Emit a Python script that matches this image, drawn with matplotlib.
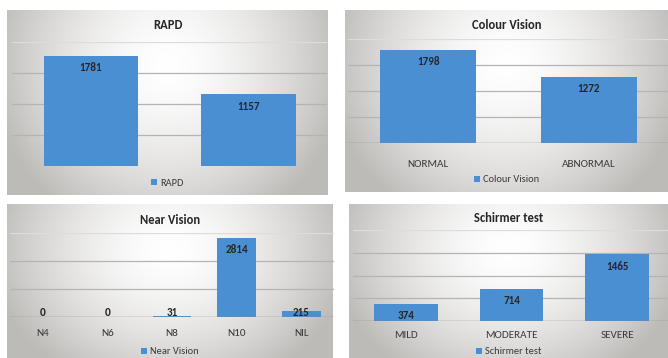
import numpy as np
import matplotlib
matplotlib.use("Agg")
import matplotlib.pyplot as plt

plt.rcParams['font.family'] = ['Carlito', 'Archivo Narrow', 'Liberation Sans', 'DejaVu Sans']

# ---- data ----
rapd_cats = ["", ""]
rapd_vals = [1781, 1157]

colour_cats = ["NORMAL", "ABNORMAL"]
colour_vals = [1798, 1272]

near_cats = ["N4", "N6", "N8", "N10", "NIL"]
near_vals = [0, 0, 31, 2814, 215]

schirmer_cats = ["MILD", "MODERATE", "SEVERE"]
schirmer_vals = [374, 714, 1465]

W, H = 668, 358
BAR = "#4a8fd1"
fig = plt.figure(figsize=(W / 100, H / 100), dpi=100)
fig.patch.set_facecolor("white")


def rect(x0, y0, x1, y1):
    return [x0 / W, 1 - y1 / H, (x1 - x0) / W, (y1 - y0) / H]


def background(x0, y0, x1, y1):
    ax = fig.add_axes(rect(x0, y0, x1, y1), zorder=0)
    ny, nx = 120, 240
    yy, xx = np.mgrid[0:1:ny * 1j, 0:1:nx * 1j]
    r = np.sqrt(((xx - 0.5) / 0.55) ** 2 + ((yy - 0.3) / 0.95) ** 2)
    r = np.clip(r, 0, 1)
    t = r ** 1.6
    c0 = np.array([1.0, 1.0, 1.0])
    c1 = np.array([0.745, 0.737, 0.725])
    img = c0[None, None, :] * (1 - t[..., None]) + c1[None, None, :] * t[..., None]
    ax.imshow(img, aspect="auto", extent=[0, 1, 1, 0], interpolation="bilinear")
    ax.set_axis_off()


def panel(bg, axr, cats, vals, ymax, step, title, title_y, legend_y, pad,
          show_base=True, show_labels=True):
    background(*bg)
    ax = fig.add_axes(rect(*axr), zorder=1)
    ax.patch.set_alpha(0)
    x = np.arange(len(cats))
    bars = ax.bar(x, vals, width=0.6, color=BAR, zorder=2, label=title)
    ax.set_xlim(-0.5, len(cats) - 0.5)
    ax.set_ylim(0, ymax)
    for g in np.arange(step, ymax + 1, step):
        col = "#dcdcdc" if g == ymax else "#b4b4b4"
        ax.axhline(g, color=col, lw=0.9, zorder=1)
    if show_base:
        ax.axhline(0, color="#8c8c8c", lw=1.0, zorder=3)
    for s in ax.spines.values():
        s.set_visible(False)
    ax.set_yticks([])
    ax.set_xticks(x)
    if show_labels:
        ax.set_xticklabels(cats, fontsize=8, color="#3a3a3a")
    else:
        ax.set_xticklabels([])
    ax.tick_params(axis="x", length=0, pad=pad)
    for b, v in zip(bars, vals):
        cx = b.get_x() + b.get_width() / 2
        if v < 0.08 * ymax:
            ax.annotate(str(v), (cx, 0), xytext=(0, -0.5), textcoords="offset points",
                        ha="center", va="bottom", fontsize=8, fontweight="bold",
                        color="#262626", zorder=4)
        else:
            ax.annotate(str(v), (cx, v), xytext=(0, -4.5), textcoords="offset points",
                        ha="center", va="top", fontsize=8, fontweight="bold",
                        color="#262626", zorder=4)
    cxf = (bg[0] + bg[2]) / 2 / W
    fig.text(cxf, 1 - title_y / H, title, ha="center", va="center",
             fontsize=9, fontweight="bold", color="#262626")
    ax.legend(loc="center", bbox_to_anchor=(cxf, 1 - legend_y / H),
              bbox_transform=fig.transFigure, frameon=False, fontsize=7.5,
              handlelength=0.55, handleheight=0.55, handletextpad=0.3,
              labelcolor="#3a3a3a")
    return ax


panel((7, 10, 328, 195), (12, 42, 327, 166), rapd_cats, rapd_vals, 2000, 500,
      "RAPD", 25, 183, 8, show_base=False, show_labels=False)
panel((345, 10, 668, 192), (348, 39, 669, 143), colour_cats, colour_vals, 2000, 500,
      "Colour Vision", 25, 180, 12)
panel((7, 204, 333, 358), (10, 233, 334, 317), near_cats, near_vals, 3000, 1000,
      "Near Vision", 220, 352, 8.5)
panel((349, 204, 668, 358), (353, 230, 670, 321), schirmer_cats, schirmer_vals, 2000, 500,
      "Schirmer test", 218, 352, 7.5)

fig.savefig("out.png", dpi=100, facecolor="white")
